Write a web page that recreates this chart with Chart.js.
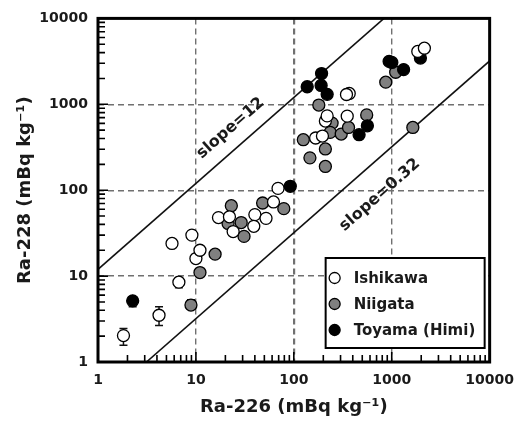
<!DOCTYPE html>
<html>
<head>
<meta charset="utf-8">
<script src="https://cdn.jsdelivr.net/npm/chart.js@4.4.0/dist/chart.umd.min.js"></script>
<style>
html, body { margin: 0; padding: 0; background: #fff; }
</style>
</head>
<body>
<canvas id="myChart" width="524" height="426"></canvas>
<script>
// Ra-226 (x) vs Ra-228 (y)
const ishikawaX = [1.82, 4.2, 6.7, 5.7, 9.1, 10, 11, 17, 22, 24, 40, 39, 52, 62, 69, 167, 196, 210, 219, 351, 368, 345, 1845, 2155]
const ishikawaY = [2.03, 3.5, 8.5, 24, 30, 16, 20, 48, 49, 33, 52, 38, 47, 73, 105, 405, 427, 638, 733, 728, 1337, 1300, 4125, 4500]

const niigataX = [8.9, 11, 15.7, 23, 21.3, 29, 31, 48, 79, 125, 146, 210, 210, 180, 246, 235, 305, 362, 555, 869, 1097, 1642]
const niigataY = [4.6, 11, 18, 66, 41, 42, 29, 71, 61, 387, 238, 302, 189, 980, 604, 471, 450, 538, 753, 1810, 2360, 538]

const toyamaX = [2.26, 92, 137, 192, 190, 219, 464, 564, 940, 1002, 1322, 1963]
const toyamaY = [5.15, 111, 1600, 2280, 1657, 1305, 443, 562, 3162, 3070, 2535, 3455]

// error bars: x, low, high
const errX = [1.82, 4.2, 6.7, 8.9, 2.26]
const errLow = [1.57, 2.66, 7.3, 4.6, 4.4]
const errHigh = [2.46, 4.4, 9.6, 5.3, 5.15]

// reference lines
const slope12X = [1, 833]
const slope12Y = [12, 10000]
const slope032X = [3.125, 10000]
const slope032Y = [1, 3200]

const slopeLabels = ['slope=12', 'slope=0.32']
const slopeLabelX = [22.6, 757]
const slopeLabelY = [527, 88]

const axisTicks = [1, 10, 100, 1000, 10000]
const minorSteps = [1, 2, 3, 4, 5, 6, 7, 8, 9]

const toPoints = (xs, ys) => xs.map((x, i) => ({ x: x, y: ys[i] }))
const isMajor = (v) => axisTicks.indexOf(v) >= 0
const FONT = 'DejaVu Sans'
const TEXT = '#1a1a1a'

// 1..9 in every decade, labels only on the decades
let tickValues = []
axisTicks.forEach((d) => {
    minorSteps.forEach((m) => {
        if (d * m <= 10000) tickValues.push(d * m)
    })
})

const logTicks = (s) => {
    s.ticks = tickValues.map((v) => ({ value: v, major: isMajor(v) }))
}

const extras = {
    id: 'extras',
    beforeDatasetsDraw(chart) {
        const ctx = chart.ctx
        const xs = chart.scales.x, ys = chart.scales.y
        ctx.save()
        ctx.strokeStyle = '#111'
        ctx.lineWidth = 1.5
        errX.forEach((x, i) => {
            const px = xs.getPixelForValue(x)
            const p1 = ys.getPixelForValue(errLow[i])
            const p2 = ys.getPixelForValue(errHigh[i])
            ctx.beginPath()
            ctx.moveTo(px, p1); ctx.lineTo(px, p2)
            ctx.moveTo(px - 4, p1); ctx.lineTo(px + 4, p1)
            ctx.moveTo(px - 4, p2); ctx.lineTo(px + 4, p2)
            ctx.stroke()
        })
        ctx.restore()
    },
    afterDraw(chart) {
        const ctx = chart.ctx
        const a = chart.chartArea
        const xs = chart.scales.x, ys = chart.scales.y
        ctx.save()

        // inward ticks on bottom and left
        ctx.strokeStyle = '#000'
        ctx.lineWidth = 1.6
        ctx.setLineDash([])
        tickValues.forEach((v) => {
            if (v <= 1 || v >= 10000) return
            const len = isMajor(v) ? 10 : 7
            const px = xs.getPixelForValue(v)
            const py = ys.getPixelForValue(v)
            ctx.beginPath()
            ctx.moveTo(px, a.bottom); ctx.lineTo(px, a.bottom - len)
            ctx.moveTo(a.left, py); ctx.lineTo(a.left + len, py)
            ctx.stroke()
        })

        // frame
        ctx.lineWidth = 3
        ctx.strokeRect(a.left, a.top, a.right - a.left, a.bottom - a.top)

        // slope labels, rotated along the lines
        const lines = [[slope12X, slope12Y], [slope032X, slope032Y]]
        ctx.font = 'bold 16px ' + FONT
        ctx.fillStyle = TEXT
        ctx.textAlign = 'center'
        ctx.textBaseline = 'middle'
        slopeLabels.forEach((label, i) => {
            const lx = lines[i][0], ly = lines[i][1]
            const dx = xs.getPixelForValue(lx[1]) - xs.getPixelForValue(lx[0])
            const dy = ys.getPixelForValue(ly[1]) - ys.getPixelForValue(ly[0])
            ctx.save()
            ctx.translate(xs.getPixelForValue(slopeLabelX[i]), ys.getPixelForValue(slopeLabelY[i]))
            ctx.rotate(Math.atan2(dy, dx))
            ctx.fillText(label, 0, 0)
            ctx.restore()
        })

        // legend box
        const w = 159, h = 90
        const bx = a.right - 5 - w, by = a.bottom - 14 - h
        ctx.fillStyle = '#fff'
        ctx.fillRect(bx, by, w, h)
        ctx.lineWidth = 2
        ctx.strokeStyle = '#000'
        ctx.strokeRect(bx, by, w, h)
        ctx.font = 'bold 15px ' + FONT
        ctx.textAlign = 'left'
        chart.data.datasets.filter((d) => !d.hideLegend).forEach((d, i) => {
            const cy = by + 20 + i * 26
            ctx.beginPath()
            ctx.arc(bx + 9, cy, 5.5, 0, Math.PI * 2)
            ctx.fillStyle = d.backgroundColor
            ctx.fill()
            ctx.lineWidth = 1.3
            ctx.strokeStyle = '#000'
            ctx.stroke()
            ctx.fillStyle = TEXT
            ctx.fillText(d.label, bx + 28, cy + 1)
        })
        ctx.restore()
    }
}

const gridColor = (c) => {
    const v = c.tick && c.tick.value
    if (!isMajor(v) || v === 1 || v === 10000) return 'rgba(0,0,0,0)'
    return '#707070'
}

const scatterSet = (label, xs, ys, fill, order) => ({
    type: 'scatter',
    label: label,
    order: order,
    data: toPoints(xs, ys),
    backgroundColor: fill,
    borderColor: '#000',
    borderWidth: 1.3,
    pointRadius: 6,
    pointHoverRadius: 6
})

const lineSet = (xs, ys) => ({
    type: 'line',
    label: '',
    hideLegend: true,
    order: 4,
    data: toPoints(xs, ys),
    borderColor: '#111',
    borderWidth: 1.6,
    pointRadius: 0,
    fill: false
})

const tickFont = { family: FONT, size: 14, weight: 'bold' }
const titleFont = { family: FONT, size: 18, weight: 'bold' }

let ctx = document.getElementById('myChart').getContext('2d')
let myChart = new Chart(ctx, {
    data: {
        datasets: [
            scatterSet('Ishikawa', ishikawaX, ishikawaY, '#ffffff', 1),
            scatterSet('Niigata', niigataX, niigataY, '#808080', 3),
            scatterSet('Toyama (Himi)', toyamaX, toyamaY, '#000000', 2),
            lineSet(slope12X, slope12Y),
            lineSet(slope032X, slope032Y)
        ]
    },
    options: {
        responsive: false,
        animation: false,
        layout: { padding: { top: 14, right: 30, left: 0, bottom: 0 } },
        plugins: {
            legend: { display: false },
            tooltip: { enabled: false }
        },
        scales: {
            x: {
                type: 'logarithmic',
                min: 1,
                max: 10000,
                afterBuildTicks: logTicks,
                afterFit: (s) => { s.height = 64 },
                border: { display: false, dash: [6, 4] },
                grid: {
                    drawTicks: false,
                    color: gridColor,
                    lineWidth: (c) => (c.tick && c.tick.value === 100 ? 2.2 : 1.4)
                },
                ticks: {
                    autoSkip: false,
                    maxRotation: 0,
                    padding: 10,
                    color: TEXT,
                    font: tickFont,
                    callback: function (val) { return isMajor(val) ? String(val) : '' }
                },
                title: {
                    display: true,
                    text: 'Ra-226 (mBq kg⁻¹)',
                    color: TEXT,
                    padding: { top: 8, bottom: 8 },
                    font: titleFont
                }
            },
            y: {
                type: 'logarithmic',
                min: 1,
                max: 10000,
                afterBuildTicks: logTicks,
                afterFit: (s) => { s.width = 98 },
                border: { display: false, dash: [6, 4] },
                grid: {
                    drawTicks: false,
                    color: gridColor,
                    lineWidth: 1.4
                },
                ticks: {
                    autoSkip: false,
                    padding: 10,
                    color: TEXT,
                    font: tickFont,
                    callback: function (val) { return isMajor(val) ? String(val) : '' }
                },
                title: {
                    display: true,
                    text: 'Ra-228 (mBq kg⁻¹)',
                    color: TEXT,
                    padding: { top: 15, bottom: 15 },
                    font: titleFont
                }
            }
        }
    },
    plugins: [extras]
})
</script>
</body>
</html>
